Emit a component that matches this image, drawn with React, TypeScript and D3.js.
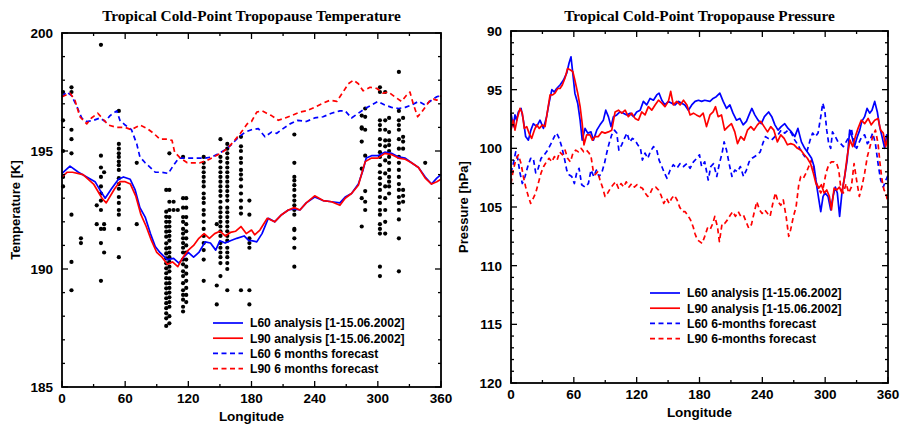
import { useEffect, useRef } from "react";
import * as d3 from "d3";

type Pt = [number, number];

// ---- Temperature panel (lon, K) ----
const tempL60Analysis: Pt[] = [
  [0, 194.05], [7.6, 194.36], [15.6, 194.1], [23.5, 193.9], [31.4, 193.7], [36, 193.35], [41, 193.0],
  [47, 193.4], [53.6, 193.8], [58.4, 193.9], [64.8, 193.8], [69.5, 193.35], [74, 192.6], [79, 192.2],
  [84, 191.5], [88.6, 190.95], [93, 190.7], [100, 190.4], [106, 190.45], [111, 190.25], [115.6, 190.5],
  [120, 190.7], [125, 190.5], [130, 190.7], [136, 191.15], [141, 191.1], [146, 190.8], [150, 191.2],
  [155, 191.1], [160, 191.2], [166, 191.3], [173, 191.4], [177.5, 191.2], [180, 191.2], [185, 191.15],
  [190, 191.5], [196, 192.15], [202, 192.0], [208.6, 192.3], [215, 192.5], [220.6, 192.55], [226, 192.5],
  [232, 192.8], [240, 193.05], [248, 192.9], [256, 192.85], [264, 192.8], [269, 193.05], [275, 193.2],
  [281.5, 193.6], [286, 194.2], [289, 194.7], [294, 194.8], [300, 194.8], [306.6, 194.95], [313, 194.9],
  [319.5, 194.75], [326, 194.7], [332, 194.5], [338.6, 194.3], [345, 193.9], [351, 193.6], [356, 193.85],
  [360, 194.0],
];

const tempL90Analysis: Pt[] = [
  [0, 193.9], [5, 194.1], [10, 194.1], [20, 194.0], [30, 193.6], [38, 193.0], [42, 192.8], [50, 193.4],
  [55, 193.7], [60, 193.7], [65, 193.6], [70, 193.1], [75, 192.3], [80, 191.8], [85, 191.2], [90, 190.7],
  [95, 190.5], [100, 190.2], [105, 190.3], [110, 190.1], [115, 190.5], [120, 190.8], [125, 191.0],
  [130, 191.3], [135, 191.5], [140, 191.3], [145, 191.5], [150, 191.6], [155, 191.4], [160, 191.55],
  [165, 191.6], [170, 191.8], [175, 191.5], [180, 191.65], [183, 191.45], [188, 191.65], [195, 192.15],
  [202, 192.0], [208.6, 192.3], [215, 192.5], [220.6, 192.6], [226, 192.5], [232, 192.8], [240, 193.1],
  [248, 192.9], [256, 192.85], [264, 192.7], [269, 193.0], [275, 193.2], [281.5, 193.55], [288, 194.55],
  [294, 194.7], [300, 194.7], [306.6, 194.9], [313, 194.85], [319.5, 194.7], [326, 194.65], [332, 194.5],
  [338.6, 194.3], [345, 193.85], [351, 193.6], [356, 193.7], [360, 193.8],
];

const tempL60Forecast: Pt[] = [
  [0, 197.3], [4.4, 197.5], [9, 197.35], [14, 196.9], [18.7, 196.4], [23.5, 196.25], [30, 196.3],
  [36, 196.4], [41, 196.25], [45.7, 196.5], [52, 196.7], [55, 196.3], [60, 196.1], [66, 195.9], [71, 195.3],
  [74, 194.75], [79, 194.5], [84, 194.3], [88.6, 194.1], [95, 194.1], [101, 194.05], [106, 194.4],
  [111, 194.7], [117, 194.7], [123.5, 194.7], [130, 194.7], [136, 194.7], [142.5, 194.75], [149, 194.9],
  [155, 195.05], [161.6, 195.3], [168, 195.6], [174, 195.8], [180, 195.9], [186.5, 195.95], [192.8, 195.6],
  [199, 195.8], [204, 195.75], [210, 195.95], [216.6, 196.15], [224, 196.3], [232, 196.25], [240, 196.4],
  [248, 196.45], [256, 196.6], [264, 196.7], [269, 196.7], [275, 196.4], [281.5, 196.6], [288, 196.8],
  [294, 196.95], [300, 197.1], [306.6, 196.95], [313, 196.85], [319.5, 196.8], [326, 196.85], [332, 196.95],
  [338.6, 197.1], [345, 196.95], [351, 197.15], [356, 197.3], [360, 197.35],
];

const tempL90Forecast: Pt[] = [
  [0, 197.3], [7.6, 197.45], [12.3, 197.15], [17, 196.45], [23.5, 196.15], [28, 196.4], [34, 196.6],
  [39, 196.35], [44, 196.1], [52, 196.0], [60, 196.0], [66, 195.9], [74, 196.1], [81, 195.95], [87, 195.75],
  [93, 195.5], [100, 195.5], [104.5, 195.45], [107, 194.95], [112.4, 194.7], [119, 194.5], [125, 194.5],
  [131, 194.5], [138, 194.6], [144, 194.75], [150.5, 194.9], [157, 195.1], [163, 195.4], [169.5, 195.75],
  [176, 196.15], [180, 196.25], [185, 196.65], [190, 196.7], [194.4, 196.6], [199, 196.5], [205.5, 196.3],
  [212, 196.4], [218, 196.5], [226, 196.65], [232, 196.7], [240, 196.85], [246.7, 197.0], [254.5, 197.15],
  [261, 197.1], [267, 197.5], [272, 197.85], [276.8, 198.0], [281.5, 197.85], [286, 197.55], [292.6, 197.7],
  [299, 197.65], [305, 197.45], [310, 197.5], [316, 197.3], [322.6, 197.1], [327, 197.35], [330.5, 197.5],
  [333.6, 197.0], [337.8, 196.45], [341.6, 196.65], [346.5, 196.95], [349.6, 197.15], [352.8, 197.2],
  [356, 197.15], [360, 197.35],
];

// radiosonde observations, grouped by station longitude
const sondeColumns: { lon: number; temps: number[] }[] = [
  { lon: 1, temps: [197.5, 196.3, 195.0, 193.9, 193.5] },
  { lon: 9, temps: [197.7, 197.5, 195.9, 195.5, 194.9, 192.3, 190.3, 189.1] },
  { lon: 18, temps: [191.3, 191.1] },
  { lon: 33, temps: [192.7, 191.9] },
  { lon: 37, temps: [199.5, 194.8, 194.3, 193.9, 193.5, 193.2, 192.9, 192.5, 191.7, 191.1, 189.5] },
  { lon: 40, temps: [194.1, 191.9, 191.7, 190.7] },
  { lon: 54, temps: [196.7, 195.3, 195.1, 194.9, 194.75, 194.55, 194.4, 194.2, 193.85, 193.6, 193.4, 193.05, 192.8, 192.5, 192.3, 191.7, 190.5] },
  { lon: 71, temps: [194.5, 191.9] },
  { lon: 99, temps: [193.35, 192.43, 192.21, 192.0, 191.79, 191.58, 191.37, 191.09, 190.87, 190.66, 190.45, 190.24, 190.03, 189.82, 189.61, 189.39, 189.18, 188.97, 188.76, 188.55, 188.34, 188.12, 187.91, 187.59] },
  { lon: 102, temps: [194.9, 193.35, 192.85, 192.5, 192.2, 192.0, 191.8, 191.6, 191.4, 191.2, 190.9, 190.7, 190.5, 190.3, 190.1, 189.9, 189.6, 189.4, 189.2, 189.0, 188.8, 188.6, 188.4, 188.0, 187.7] },
  { lon: 106, temps: [192.85, 192.5] },
  { lon: 110, temps: [192.5] },
  { lon: 115, temps: [194.75, 193.0, 192.6, 192.2, 192.0, 191.7, 191.5, 191.3, 191.1, 190.9, 190.7, 190.4, 190.2, 189.9, 189.7, 189.4, 189.1, 188.9, 188.7, 188.4, 188.2] },
  { lon: 118, temps: [193.0, 192.6, 192.2, 191.9, 191.6, 191.3, 191.0, 190.7, 190.4, 190.1, 189.8, 189.5, 189.2, 188.9, 188.6] },
  { lon: 134.6, temps: [194.75, 194.5, 194.3, 194.1, 193.9, 193.7, 193.5, 193.2, 193.0, 192.8, 192.5, 192.3, 192.0, 191.7, 191.4, 191.1, 190.8, 190.4, 189.5] },
  { lon: 147, temps: [191.9, 189.3, 188.5] },
  { lon: 150.5, temps: [195.5, 194.75, 194.55, 194.3, 194.1, 193.9, 193.7, 193.5, 193.3, 193.1, 192.85, 192.6, 192.4, 192.2, 192.0, 191.8, 191.6, 191.4, 191.1, 190.9, 190.7, 190.5, 190.25, 189.7] },
  { lon: 157, temps: [195.3, 195.1, 194.9, 194.7, 194.5, 194.3, 194.1, 193.9, 193.7, 193.5, 193.3, 193.1, 192.9, 192.6, 192.4, 192.2, 192.0, 191.8, 191.6, 191.4, 191.2, 190.9, 190.7, 190.5, 190.25, 190.0, 189.1] },
  { lon: 170, temps: [195.6, 195.2, 195.0, 194.7, 194.5, 194.2, 194.0, 193.8, 193.5, 193.2, 192.9, 192.6, 192.35, 189.1] },
  { lon: 178, temps: [192.9, 192.3, 191.3, 191.1, 190.9, 189.1, 188.5] },
  { lon: 220.7, temps: [195.7, 194.5, 193.9, 193.75, 193.55, 193.35, 193.1, 192.9, 192.7, 192.5, 192.3, 191.7, 191.65, 191.3, 190.9, 190.1] },
  { lon: 284.7, temps: [196.5, 196.0, 195.95, 195.4, 194.25, 193.0, 191.8] },
  { lon: 288, temps: [196.8, 196.45, 195.9, 194.8, 193.3, 192.85, 192.5] },
  { lon: 302, temps: [197.7, 197.5, 196.3, 196.1, 195.9, 195.5, 195.25, 194.95, 194.75, 194.4, 194.1, 193.85, 193.6, 193.35, 193.05, 192.8, 192.5, 192.3, 191.9, 191.7, 191.5, 190.1, 189.7] },
  { lon: 307, temps: [197.5, 196.3, 195.9, 195.45, 195.2, 194.6, 194.05, 193.5, 193.0, 192.5, 192.0, 191.5] },
  { lon: 310.7, temps: [196.4, 195.8, 195.45, 195.25, 195.0, 194.75, 194.5, 194.2, 193.9, 193.7, 193.5, 193.2] },
  { lon: 320, temps: [198.35, 196.7, 196.3, 196.1, 195.9, 195.5, 195.1, 194.75, 194.5, 194.2, 193.9, 193.6, 193.35, 193.05, 192.8, 192.5, 192.1, 191.3, 189.9] },
  { lon: 324, temps: [196.4, 195.6, 195.4, 195.1, 193.35, 193.1, 192.85] },
  { lon: 345, temps: [194.5] },
];

// ---- Pressure panel (lon, hPa) ----
const presL60Analysis: Pt[] = [
  [0, 97.0], [2.2, 98.15], [3.8, 97.15], [5.4, 97.6], [7, 96.9], [9.6, 96.6], [11.8, 97.6], [14, 99.0],
  [16.6, 99.3], [19, 98.45], [21.3, 97.9], [24.5, 98.15], [27.7, 97.6], [31, 98.3], [34, 97.3], [36.3, 96.15],
  [39, 95.0], [41.4, 95.2], [43.6, 94.9], [46.8, 94.6], [50, 94.2], [53.2, 93.6], [55.4, 92.75], [57.3, 92.2],
  [59, 93.6], [61, 95.3], [63.7, 96.15], [66, 97.6], [68, 99.3], [70.7, 98.3], [73.3, 98.7], [76.4, 98.6],
  [78.7, 99.3], [81.9, 98.45], [85, 98.0], [88.2, 97.6], [90.5, 96.75], [93, 97.3], [95.5, 98.15],
  [97.8, 97.3], [101, 97.15], [104, 96.9], [107.3, 97.0], [110.5, 97.15], [113.7, 97.0], [117, 97.3],
  [120, 96.9], [123.3, 96.75], [126.4, 96.0], [129.6, 96.3], [132.8, 95.75], [136, 95.9], [139.2, 95.45],
  [141.4, 95.3], [144, 95.9], [147, 96.3], [150.3, 96.0], [153.5, 96.15], [156.7, 96.3], [160, 96.0],
  [163, 96.15], [166, 96.3], [169.4, 96.75], [172.6, 96.3], [175.8, 96.0], [179, 95.9], [182, 96.0],
  [185, 95.9], [190, 96.0], [193, 95.75], [196, 95.6], [199.4, 95.3], [202.6, 96.0], [205.8, 96.6],
  [209, 96.3], [212, 97.0], [215.3, 97.6], [218.5, 97.45], [221.7, 98.0], [224.8, 97.7], [228, 97.0],
  [230, 96.6], [232.8, 97.15], [236, 97.6], [239, 97.9], [242, 97.3], [246, 96.9], [249, 97.3], [252, 98.0],
  [255, 98.45], [258, 98.15], [261.4, 97.9], [264.6, 98.3], [267.8, 98.6], [271, 99.0], [274, 98.3],
  [277.3, 99.45], [280.5, 100.0], [283.7, 100.4], [287, 100.85], [289.4, 101.55], [291.6, 103.0],
  [294, 104.4], [295.8, 105.4], [298, 104.1], [300, 103.8], [302.7, 104.1], [305.3, 105.25], [307.5, 104.1],
  [309.7, 103.3], [311.6, 103.8], [313.8, 105.8], [316, 103.8], [318.6, 102.4], [321, 101.0], [323.4, 98.45],
  [325.6, 99.0], [328, 99.85], [330.7, 99.0], [333, 98.45], [335, 97.7], [337.7, 97.3], [340, 96.6],
  [342.5, 97.0], [344.7, 96.75], [347.3, 96.0], [349.8, 96.9], [352, 98.15], [354.3, 99.0], [356.8, 100.0],
  [358.7, 98.85], [360, 99.0],
];

const presL90Analysis: Pt[] = [
  [0, 98.45], [2.2, 97.6], [3.8, 98.45], [6.4, 97.3], [8.6, 96.6], [10.8, 97.0], [12.7, 98.3], [15, 98.15],
  [17.2, 98.7], [19.7, 99.15], [22.3, 98.45], [24.5, 98.0], [27, 98.3], [30, 98.0], [32.5, 98.15],
  [35, 96.75], [37.3, 95.45], [39.8, 95.45], [42, 95.3], [44.6, 94.9], [46.8, 94.9], [49, 94.6], [51.6, 94.0],
  [54, 93.2], [56.4, 93.3], [59, 93.45], [61, 94.2], [63.7, 95.3], [66, 96.45], [68, 97.9], [69.7, 99.7],
  [72.3, 98.85], [75.5, 98.85], [77.7, 99.3], [80.3, 99.0], [83.4, 99.0], [86.6, 98.6], [89.8, 98.7],
  [93, 98.6], [96.2, 98.45], [99.4, 96.9], [102.6, 96.75], [105.7, 97.0], [109, 96.75], [112, 97.3],
  [115.3, 97.0], [118.5, 97.45], [121.7, 97.6], [124.8, 96.9], [128, 97.15], [131.2, 96.45], [134.4, 96.75],
  [137.6, 96.3], [140.8, 95.9], [144, 96.15], [147, 96.45], [150.3, 96.0], [152.5, 95.15], [155, 96.3],
  [158.3, 96.0], [161.5, 96.3], [164.7, 95.9], [168, 96.3], [171, 97.15], [174.2, 97.0], [177, 97.15],
  [180.3, 97.3], [183.5, 97.0], [186.7, 98.15], [190, 97.15], [193, 96.9], [195.3, 96.45], [197.8, 97.3],
  [201, 97.15], [204, 98.45], [207.3, 98.15], [210.5, 97.9], [213.7, 98.6], [216.3, 99.6], [219.4, 99.0],
  [222.6, 99.3], [225.8, 98.45], [229, 98.15], [232, 98.45], [235.3, 98.0], [238.5, 97.7], [241.7, 98.15],
  [245, 98.6], [248, 98.15], [251, 98.45], [254.4, 99.45], [257.6, 98.85], [260.8, 99.15], [264, 99.7],
  [267, 99.6], [270.3, 99.7], [273.5, 100.0], [276.7, 100.15], [280, 100.55], [283, 100.85], [286, 101.3],
  [288.7, 102.1], [291.2, 103.0], [293.8, 103.4], [296.4, 103.1], [299, 103.8], [301.5, 103.55],
  [304, 104.1], [306, 105.25], [308.5, 103.4], [311, 103.55], [313.6, 103.3], [316, 103.8], [318.6, 102.4],
  [321, 100.7], [323.7, 99.3], [326.3, 99.85], [328.8, 99.0], [331.4, 98.3], [334.5, 97.6], [337.7, 97.9],
  [341, 97.45], [344, 98.0], [347.3, 97.6], [350.5, 97.45], [353, 98.45], [355.5, 98.7], [357.8, 99.85],
  [360, 99.0],
];

const presL60Forecast: Pt[] = [
  [0, 102.1], [2.2, 101.3], [4.5, 100.3], [6.4, 100.85], [8.6, 102.1], [10.8, 103.0], [13.4, 102.4],
  [16, 101.55], [18.8, 100.85], [21.3, 100.85], [23.6, 102.1], [26, 101.7], [28.7, 100.85], [31.8, 100.55],
  [35, 100.15], [38.2, 99.6], [41.4, 99.0], [43.6, 98.7], [46, 99.15], [48.4, 99.85], [51, 100.85],
  [53.2, 101.85], [55.4, 102.25], [58, 102.4], [60.5, 103.0], [62.7, 102.1], [65, 101.7], [67.5, 103.1],
  [70.7, 103.3], [73.9, 103.0], [76.4, 101.85], [79, 102.4], [81.5, 101.85], [84, 102.4], [86.6, 102.1],
  [89.2, 101.3], [91.4, 100.4], [93.6, 99.6], [96.2, 98.85], [98.7, 98.45], [101, 98.7], [103, 100.15],
  [105.7, 99.7], [108.3, 99.15], [110.8, 98.7], [113.4, 99.45], [116, 99.15], [118.5, 99.3], [121, 99.7],
  [123.6, 100.0], [125.5, 101.0], [128, 100.4], [130.6, 100.85], [133, 100.3], [136, 99.85], [139.2, 100.15],
  [141.4, 101.0], [144, 101.55], [146.5, 102.1], [149, 102.55], [152, 101.85], [155, 101.4], [158.3, 101.7],
  [161.5, 101.3], [164.7, 101.55], [168, 101.3], [171, 101.7], [174.2, 101.15], [177.4, 100.85],
  [180, 100.55], [182, 101.55], [185, 101.15], [188.3, 102.7], [190.8, 101.55], [193.4, 101.3],
  [196.5, 102.4], [199, 101.3], [201.6, 100.4], [203.5, 99.45], [205.8, 100.15], [208.3, 101.3],
  [211, 102.4], [213.7, 101.85], [216.3, 102.0], [219, 101.55], [222, 102.4], [224.8, 101.85],
  [227.4, 101.15], [230.2, 100.85], [232.8, 100.7], [235.3, 100.55], [238, 100.3], [240.4, 99.6],
  [243, 99.0], [245.5, 99.15], [248.7, 99.3], [252, 99.0], [255, 98.85], [258, 98.45], [261.4, 98.7],
  [264.6, 98.45], [267.8, 98.7], [271, 99.3], [274, 99.7], [277.3, 100.3], [280.5, 100.7], [283, 100.15],
  [285.6, 99.3], [288, 98.7], [290.7, 99.0], [293.2, 98.7], [295.8, 97.3], [297.7, 96.15], [299.6, 96.75],
  [301.5, 98.45], [303.4, 99.6], [305.3, 100.0], [307, 98.6], [309.7, 99.0], [312.3, 99.45], [314.8, 99.6],
  [317.4, 99.85], [320, 99.45], [322.8, 99.0], [325, 98.3], [327.6, 99.6], [330, 100.0], [332.6, 99.45],
  [335, 99.0], [337.7, 98.85], [340.3, 99.6], [342.8, 99.3], [345.4, 98.7], [348, 99.6], [350.5, 101.3],
  [353, 102.7], [355.5, 103.3], [358, 102.7], [360, 102.3],
];

const presL90Forecast: Pt[] = [
  [0, 103.0], [2.2, 101.85], [4.5, 101.0], [7, 100.55], [9.6, 101.3], [11.8, 102.4], [14, 103.3],
  [16.6, 104.1], [18.8, 104.7], [21.3, 104.25], [23.6, 103.8], [26, 103.0], [28.7, 102.1], [31.2, 101.55],
  [33.8, 101.15], [36.3, 100.85], [39, 101.15], [41.4, 100.7], [44, 101.0], [46.5, 100.3], [49, 100.55],
  [51.6, 100.15], [54, 100.85], [56.7, 101.15], [59.2, 100.4], [61.8, 100.15], [64.3, 100.3], [66.9, 100.0],
  [69.4, 100.3], [72, 100.15], [74.5, 100.4], [76.4, 100.7], [78.4, 101.85], [80.3, 102.25], [82.8, 102.0],
  [85, 102.7], [87.3, 103.3], [89.8, 104.1], [92.4, 103.8], [95, 103.4], [97.5, 103.1], [100, 102.85],
  [102.6, 103.4], [105, 103.0], [107.6, 103.3], [110, 102.85], [112.7, 103.3], [115.3, 103.0], [117.8, 103.3],
  [120.4, 103.1], [123, 103.3], [125.5, 103.4], [128, 103.8], [130.6, 104.1], [133, 103.8], [135.7, 103.3],
  [138.2, 103.3], [140.8, 103.55], [143.3, 104.0], [145.9, 104.7], [148.4, 104.25], [151, 104.7],
  [153.5, 104.25], [156, 104.0], [158.6, 104.4], [161, 105.0], [163.7, 105.4], [166.3, 105.4], [168.8, 105.7],
  [171.4, 106.1], [174, 106.7], [175.8, 107.3], [178, 107.8], [180.3, 107.95], [182.5, 108.1], [185, 107.5],
  [187.6, 106.8], [190, 106.95], [192.7, 106.4], [194.6, 105.8], [197.2, 106.7], [199, 107.95], [201.6, 106.4],
  [204, 106.4], [206.7, 106.1], [209.3, 105.7], [211.8, 105.4], [214.3, 105.8], [217, 105.4], [219.4, 105.8],
  [222, 105.7], [224.5, 106.25], [227, 106.8], [229.6, 106.5], [232, 105.55], [234.7, 104.55], [237.3, 105.25],
  [239.8, 105.55], [242.3, 105.25], [245, 105.55], [247.4, 105.8], [250, 104.7], [252.5, 103.8],
  [255, 104.55], [257.6, 104.85], [260, 104.4], [262.7, 105.8], [265.2, 107.5], [267, 106.95], [269.7, 105.8],
  [272.2, 105.0], [274.8, 103.1], [276.7, 102.4], [279.2, 102.55], [281.8, 102.1], [284.3, 101.55],
  [286.8, 101.0], [288.7, 101.55], [291.3, 102.85], [293.2, 103.3], [295.8, 103.8], [298.3, 103.3],
  [300.8, 102.1], [303.4, 101.4], [306, 101.15], [308.5, 101.15], [311, 101.3], [313, 101.85], [314.8, 103.3],
  [317.4, 103.8], [320, 103.0], [322.5, 103.8], [325, 103.3], [327.6, 101.3], [330, 102.7], [332.6, 104.1],
  [335, 103.3], [337.7, 102.1], [340.3, 100.7], [342.8, 99.85], [345.4, 99.0], [348, 98.45], [350.5, 99.6],
  [352.4, 101.3], [354.3, 102.7], [356.2, 103.55], [358, 103.8], [360, 104.7],
];

const lonTicks = [0, 60, 120, 180, 240, 300, 360];
const tempTicks = [185, 190, 195, 200];
const presTicks = [90, 95, 100, 105, 110, 115, 120];

const tempLegend = [
  "L60 analysis [1-15.06.2002]",
  "L90 analysis [1-15.06.2002]",
  "L60 6 months forecast",
  "L90 6 months forecast",
];
const presLegend = [
  "L60 analysis [1-15.06.2002]",
  "L90 analysis [1-15.06.2002]",
  "L60 6-months forecast",
  "L90 6-months forecast",
];

const BLUE = "#0000ff";
const RED = "#ff0000";
const SANS = "'Liberation Sans', Arial, Helvetica, sans-serif";
const SERIF = "'Liberation Serif', 'Times New Roman', serif";

interface PanelSpec {
  x0: number;
  x1: number;
  y0: number;
  y1: number;
  yDomain: [number, number];
  yTicks: number[];
  title: string;
  yLabel: string;
  yLabelX: number;
  series: Pt[][];
  legend: string[];
  legendX: number;
  legendY: number;
  dots?: { lon: number; temps: number[] }[];
}

function drawPanel(svg: d3.Selection<SVGSVGElement, unknown, null, undefined>, p: PanelSpec) {
  const g = svg.append("g");
  const x = d3.scaleLinear().domain([0, 360]).range([p.x0, p.x1]);
  const y = d3.scaleLinear().domain(p.yDomain).range([p.y0, p.y1]);
  const [ya, yb] = p.yDomain;
  const lo = Math.min(ya, yb);
  const hi = Math.max(ya, yb);

  // dots
  if (p.dots) {
    p.dots.forEach((c) => {
      c.temps.forEach((t) => {
        g.append("circle")
          .attr("cx", x(c.lon))
          .attr("cy", y(t))
          .attr("r", 2.1)
          .attr("fill", "#000");
      });
    });
  }

  // lines
  const line = d3
    .line<Pt>()
    .x((d) => x(d[0]))
    .y((d) => y(d[1]));
  const styles = [
    { c: BLUE, dash: null },
    { c: RED, dash: null },
    { c: BLUE, dash: "5,3.5" },
    { c: RED, dash: "5,3.5" },
  ];
  // draw dashed first, then solid on top
  [2, 3, 0, 1].forEach((i) => {
    g.append("path")
      .datum(p.series[i])
      .attr("fill", "none")
      .attr("stroke", styles[i].c)
      .attr("stroke-width", 1.7)
      .attr("stroke-linejoin", "round")
      .attr("stroke-dasharray", styles[i].dash)
      .attr("d", line);
  });

  // frame
  g.append("rect")
    .attr("x", p.x0)
    .attr("y", p.y0)
    .attr("width", p.x1 - p.x0)
    .attr("height", p.y1 - p.y0)
    .attr("fill", "none")
    .attr("stroke", "#000")
    .attr("stroke-width", 1.8);

  // x ticks (inward, top and bottom)
  d3.range(0, 361, 30).forEach((v) => {
    const len = v % 60 === 0 ? 6 : 3;
    g.append("line").attr("x1", x(v)).attr("x2", x(v)).attr("y1", p.y1).attr("y2", p.y1 - len)
      .attr("stroke", "#000").attr("stroke-width", 1.3);
    g.append("line").attr("x1", x(v)).attr("x2", x(v)).attr("y1", p.y0).attr("y2", p.y0 + len)
      .attr("stroke", "#000").attr("stroke-width", 1.3);
  });
  // y ticks (inward, left and right)
  d3.range(lo, hi + 0.01, 1).forEach((v) => {
    const len = v % 5 === 0 ? 6 : 3;
    g.append("line").attr("x1", p.x0).attr("x2", p.x0 + len).attr("y1", y(v)).attr("y2", y(v))
      .attr("stroke", "#000").attr("stroke-width", 1.3);
    g.append("line").attr("x1", p.x1).attr("x2", p.x1 - len).attr("y1", y(v)).attr("y2", y(v))
      .attr("stroke", "#000").attr("stroke-width", 1.3);
  });

  // tick labels
  lonTicks.forEach((v) => {
    g.append("text")
      .attr("x", x(v))
      .attr("y", p.y1 + 16)
      .attr("text-anchor", "middle")
      .attr("font-family", SANS)
      .attr("font-weight", "bold")
      .attr("font-size", 13.5)
      .text(v);
  });
  p.yTicks.forEach((v) => {
    g.append("text")
      .attr("x", p.x0 - 9)
      .attr("y", y(v) + 5)
      .attr("text-anchor", "end")
      .attr("font-family", SANS)
      .attr("font-weight", "bold")
      .attr("font-size", 13.5)
      .text(v);
  });

  // axis labels + title
  g.append("text")
    .attr("x", (p.x0 + p.x1) / 2)
    .attr("y", p.y1 + 34)
    .attr("text-anchor", "middle")
    .attr("font-family", SANS)
    .attr("font-weight", "bold")
    .attr("font-size", 13.5)
    .text("Longitude");
  g.append("text")
    .attr("transform", `translate(${p.yLabelX},${(p.y0 + p.y1) / 2}) rotate(-90)`)
    .attr("text-anchor", "middle")
    .attr("font-family", SANS)
    .attr("font-weight", "bold")
    .attr("font-size", 13)
    .text(p.yLabel);
  g.append("text")
    .attr("x", (p.x0 + p.x1) / 2)
    .attr("y", 21)
    .attr("text-anchor", "middle")
    .attr("font-family", SERIF)
    .attr("font-weight", "bold")
    .attr("font-size", 15.3)
    .text(p.title);

  // legend
  p.legend.forEach((label, i) => {
    const ly = p.legendY + i * 15.2;
    g.append("line")
      .attr("x1", p.legendX)
      .attr("x2", p.legendX + 30)
      .attr("y1", ly)
      .attr("y2", ly)
      .attr("stroke", styles[i].c)
      .attr("stroke-width", 1.7)
      .attr("stroke-dasharray", styles[i].dash);
    g.append("text")
      .attr("x", p.legendX + 37)
      .attr("y", ly + 4.3)
      .attr("font-family", SANS)
      .attr("font-weight", "bold")
      .attr("font-size", 12.1)
      .text(label);
  });
}

export default function App() {
  const svgRef = useRef<SVGSVGElement>(null);

  useEffect(() => {
    if (!svgRef.current) return;
    const svg = d3.select(svgRef.current);
    svg.selectAll("*").remove();

    drawPanel(svg, {
      x0: 62, x1: 441, y0: 33, y1: 387,
      yDomain: [200, 185],
      yTicks: tempTicks,
      title: "Tropical Cold-Point Tropopause Temperature",
      yLabel: "Temperature [K]",
      yLabelX: 20,
      series: [tempL60Analysis, tempL90Analysis, tempL60Forecast, tempL90Forecast],
      legend: tempLegend,
      legendX: 213,
      legendY: 323,
      dots: sondeColumns,
    });

    drawPanel(svg, {
      x0: 511, x1: 888, y0: 31, y1: 383,
      yDomain: [90, 120],
      yTicks: presTicks,
      title: "Tropical Cold-Point Tropopause Pressure",
      yLabel: "Pressure [hPa]",
      yLabelX: 468,
      series: [presL60Analysis, presL90Analysis, presL60Forecast, presL90Forecast],
      legend: presLegend,
      legendX: 650,
      legendY: 293,
    });
  }, []);

  return (
    <div style={{ position: "absolute", left: 0, top: 0 }}>
      <svg ref={svgRef} width={902} height={427} style={{ display: "block", background: "#fff" }} />
    </div>
  );
}
